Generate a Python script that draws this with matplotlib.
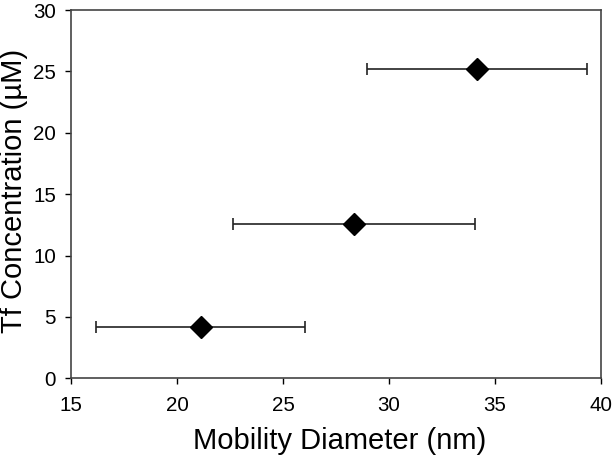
import matplotlib
matplotlib.use("Agg")
import matplotlib.pyplot as plt

plt.rcParams['font.family'] = ['Liberation Sans', 'DejaVu Sans']

diameter = [34.14, 28.33, 21.10]
diameter_err = [5.2, 5.72, 4.92]
concentration = [25.2, 12.6, 4.16]

fig = plt.figure(figsize=(6.15, 4.59), dpi=100)
ax = fig.add_axes([0.116, 0.176, 0.861, 0.802])

ax.errorbar(diameter, concentration, xerr=diameter_err, fmt='D', color='black',
            mec='black', ecolor='#222222', elinewidth=1.2, capsize=4.5, capthick=1.2,
            markersize=11)

ax.set_xlim(15, 40)
ax.set_ylim(0, 30)
ax.set_xticks([15, 20, 25, 30, 35, 40])
ax.set_yticks([0, 5, 10, 15, 20, 25, 30])
ax.tick_params(direction='out', length=4, width=1, labelsize=14.8, colors='black')
ax.tick_params(axis='x', pad=9)
ax.tick_params(axis='y', pad=7)
for s in ax.spines.values():
    s.set_linewidth(1.2)
    s.set_color('#444444')

ax.set_xlabel('Mobility Diameter (nm)', fontsize=21)
ax.set_ylabel('Tf Concentration (µM)', fontsize=21)
ax.xaxis.set_label_coords(0.506, -0.133)
ax.yaxis.set_label_coords(-0.082, 0.51)

fig.savefig('out.png', dpi=100)
